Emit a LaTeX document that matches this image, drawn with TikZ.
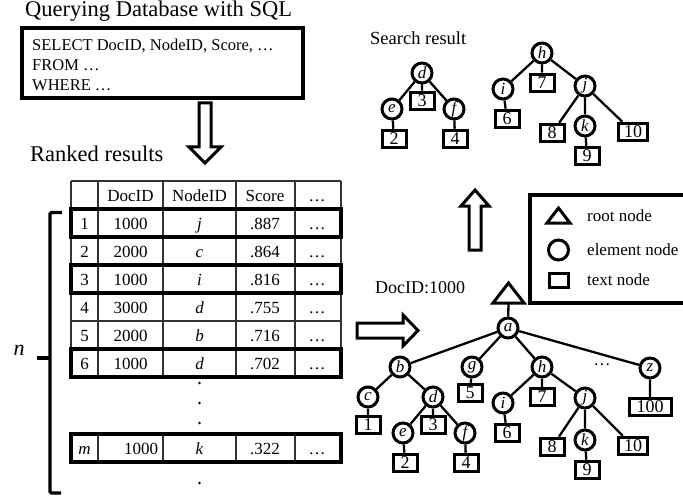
\documentclass[tikz,border=0pt]{standalone}
\usepackage{fontspec}
\setmainfont{Liberation Serif}
\usetikzlibrary{calc}

\newcommand{\fsz}[1]{\fontsize{#1}{#1}\selectfont}

\begin{document}
\begin{tikzpicture}[x=1pt, y=-1pt,
		heading/.style={font=\fsz{22.5}, anchor=base west, inner sep=0pt},
		sqlline/.style={font=\fsz{16.5}, anchor=base west, inner sep=0pt},
		cell/.style={font=\fsz{17}, anchor=base, inner sep=0pt},
		gridline/.style={line width=1.2pt, black!80},
		hitrow/.style={line width=3.3pt},
		boxline/.style={line width=3.3pt},
		hollow/.style={line width=3pt, line join=miter},
		elem/.style={circle, draw, line width=3pt, minimum size=20pt,
				inner sep=0pt, font=\fsz{17}\itshape},
		txt/.style={rectangle, draw, line width=3pt, minimum width=24pt,
				minimum height=17.5pt, inner sep=1pt, font=\fsz{18}},
		rootshape/.style={line width=3pt, line join=miter},
		branch/.style={line width=2.3pt},
		legend/.style={font=\fsz{17}, anchor=base west, inner sep=0pt},
	]
	\useasboundingbox (0,0) rectangle (683,500);

	% ---- query ----
	\node[heading] (title) at (25,17) {Querying Database with SQL};
	\node[draw, line width=3.3pt, minimum width=281pt, minimum height=70pt,
		inner sep=0pt] (query) at (162.5,63) {};
	\node[sqlline] (select) at (32,50.7) {SELECT DocID, NodeID, Score, …};
	\node[sqlline] (from) at (32,70.7) {FROM …};
	\node[sqlline] (where) at (32,90.7) {WHERE …};

	\draw[hollow] (199,103) -- (211,103) -- (211,147) -- (221,147) -- (205,163)
		-- (189,147) -- (199,147) -- cycle;

	% ---- ranked table ----
	\node[heading] (ranked) at (30,162) {Ranked results};

	\foreach \y in {181,209,...,377} \draw[gridline] (71,\y) -- (341,\y);
	\foreach \x in {71,98,163,236,295,341}
	\draw[gridline] (\x,181) -- (\x,377) (\x,434) -- (\x,462);
	\draw[gridline] (71,434) -- (341,434) (71,462) -- (341,462);

	\node[cell] (hdoc) at (130.5,201.5) {DocID};
	\node[cell] (hnode) at (199.5,201.5) {NodeID};
	\node[cell] (hscore) at (265,201.5) {Score};
	\node[cell] (hmore) at (317,201.5) {…};

	\node[cell] (r1n) at (84.5,229.5) {1};
	\node[cell] (r1doc) at (130.5,229.5) {1000};
	\node[cell] (r1node) at (199.5,229.5) {\itshape j};
	\node[cell] (r1score) at (265,229.5) {.887};
	\node[cell] (r1more) at (317,229.5) {…};

	\node[cell] (r2n) at (84.5,257.5) {2};
	\node[cell] (r2doc) at (130.5,257.5) {2000};
	\node[cell] (r2node) at (199.5,257.5) {\itshape c};
	\node[cell] (r2score) at (265,257.5) {.864};
	\node[cell] (r2more) at (317,257.5) {…};

	\node[cell] (r3n) at (84.5,285.5) {3};
	\node[cell] (r3doc) at (130.5,285.5) {1000};
	\node[cell] (r3node) at (199.5,285.5) {\itshape i};
	\node[cell] (r3score) at (265,285.5) {.816};
	\node[cell] (r3more) at (317,285.5) {…};

	\node[cell] (r4n) at (84.5,313.5) {4};
	\node[cell] (r4doc) at (130.5,313.5) {3000};
	\node[cell] (r4node) at (199.5,313.5) {\itshape d};
	\node[cell] (r4score) at (265,313.5) {.755};
	\node[cell] (r4more) at (317,313.5) {…};

	\node[cell] (r5n) at (84.5,341.5) {5};
	\node[cell] (r5doc) at (130.5,341.5) {2000};
	\node[cell] (r5node) at (199.5,341.5) {\itshape b};
	\node[cell] (r5score) at (265,341.5) {.716};
	\node[cell] (r5more) at (317,341.5) {…};

	\node[cell] (r6n) at (84.5,369.5) {6};
	\node[cell] (r6doc) at (130.5,369.5) {1000};
	\node[cell] (r6node) at (199.5,369.5) {\itshape d};
	\node[cell] (r6score) at (265,369.5) {.702};
	\node[cell] (r6more) at (317,369.5) {…};

	\node[cell] (rmn) at (84.5,454.5) {\itshape m};
	\node[cell] (rmdoc) at (141,454.5) {1000};
	\node[cell] (rmnode) at (199.5,454.5) {\itshape k};
	\node[cell] (rmscore) at (265,454.5) {.322};
	\node[cell] (rmmore) at (317,454.5) {…};

	\foreach \y in {383,403,423,483} \fill (199.5,\y) circle (1.4pt);

	% rows belonging to DocID 1000
	\draw[hitrow] (71,209) rectangle (341,237);
	\draw[hitrow] (71,265) rectangle (341,293);
	\draw[hitrow] (71,349) rectangle (341,377);
	\draw[hitrow] (71,434) rectangle (341,462);

	% top-n bracket
	\draw[boxline, rounded corners=1.5pt] (62,212.5) -- (50,212.5) -- (50,493) -- (61,493);
	\draw[boxline] (50,358) -- (37,358);
	\node[font=\fsz{22}\itshape] (nlabel) at (19,350) {n};

	\draw[hollow] (357,323) -- (403,323) -- (403,315) -- (418,330.5) -- (403,346)
		-- (403,338) -- (357,338) -- cycle;

	% ---- document tree ----
	\node[font=\fsz{18}, anchor=base west, inner sep=0pt] (docid) at (375,293) {DocID:1000};
	\draw[rootshape] (493,303) -- (508.5,283) -- (524,303) -- cycle;
	\coordinate (root) at (508.5,303);
	\node[elem] (a) at (508,328) {a};
	\node[elem] (b) at (400,367) {b};
	\node[elem] (g) at (472,367) {g};
	\node[elem] (h) at (542,367) {h};
	\node[font=\fsz{17}] (more) at (602,365) {…};
	\node[elem] (z) at (650,368) {z};
	\node[elem] (c) at (368,397) {c};
	\node[elem] (d) at (433,397) {d};
	\node[txt] (t5) at (470,393) {5};
	\node[elem] (i) at (503,403) {i};
	\node[txt] (t7) at (542,397) {7};
	\node[elem] (j) at (585,398) {j};
	\node[txt, minimum width=42pt] (t100) at (650,407) {100};
	\node[txt] (t1) at (368,425) {1};
	\node[elem] (e) at (403,433) {e};
	\node[txt] (t3) at (433,425) {3};
	\node[elem] (f) at (465,433) {f};
	\node[txt] (t6) at (507,433) {6};
	\node[txt] (t8) at (552,447) {8};
	\node[elem] (k) at (585,440) {k};
	\node[txt, minimum width=29pt] (t10) at (633,446) {10};
	\node[txt] (t2) at (405,463) {2};
	\node[txt] (t4) at (466,463) {4};
	\node[txt] (t9) at (587,470) {9};

	\draw[branch] (root) -- (a) (a) -- (b) (a) -- (g) (a) -- (h) (a) -- (z)
		(b) -- (c) (b) -- (d) (g) -- (t5) (h) -- (i) (h) -- (t7) (h) -- (j)
		(z) -- (t100) (c) -- (t1) (d) -- (e) (d) -- (t3) (d) -- (f)
		(i) -- (t6) (j) -- (t8) (j) -- (k) (j) -- (t10)
		(e) -- (t2) (f) -- (t4) (k) -- (t9);

	\draw[hollow] (469,250) -- (469,206) -- (461,206) -- (475,190) -- (489,206)
		-- (481,206) -- (481,250) -- cycle;

	% ---- search result ----
	\node[font=\fsz{18.5}, anchor=base west, inner sep=0pt] (searchlbl) at (370,45) {Search result};
	\node[elem] (sd) at (422,73) {d};
	\node[elem] (se) at (392,109) {e};
	\node[txt] (st3) at (422,101) {3};
	\node[elem] (sf) at (454,109) {f};
	\node[txt] (st2) at (394,139) {2};
	\node[txt] (st4) at (455,139) {4};

	\node[elem] (sh) at (542,53) {h};
	\node[elem] (si) at (503,89) {i};
	\node[txt] (st7) at (542,83) {7};
	\node[elem] (sj) at (585,86) {j};
	\node[txt] (st6) at (507,119) {6};
	\node[txt] (st8) at (552,133) {8};
	\node[elem] (sk) at (585,126) {k};
	\node[txt, minimum width=29pt] (st10) at (633,132) {10};
	\node[txt] (st9) at (587,156) {9};

	\draw[branch] (sd) -- (se) (sd) -- (st3) (sd) -- (sf) (se) -- (st2) (sf) -- (st4)
		(sh) -- (si) (sh) -- (st7) (sh) -- (sj) (si) -- (st6)
		(sj) -- (st8) (sj) -- (sk) (sj) -- (st10) (sk) -- (st9);

	% ---- legend ----
	\draw[boxline] (530,195) rectangle (690,303);
	\draw[rootshape] (547,223) -- (558.5,208) -- (570,223) -- cycle;
	\node[elem] (legelem) at (558.5,250) {};
	\node[txt, minimum width=19pt, minimum height=14pt] (legtxt) at (558.5,280) {};
	\node[legend] (legroot) at (587,221.7) {root node};
	\node[legend] (legel) at (587,255) {element node};
	\node[legend] (legtx) at (587,285) {text node};

\end{tikzpicture}
\end{document}
